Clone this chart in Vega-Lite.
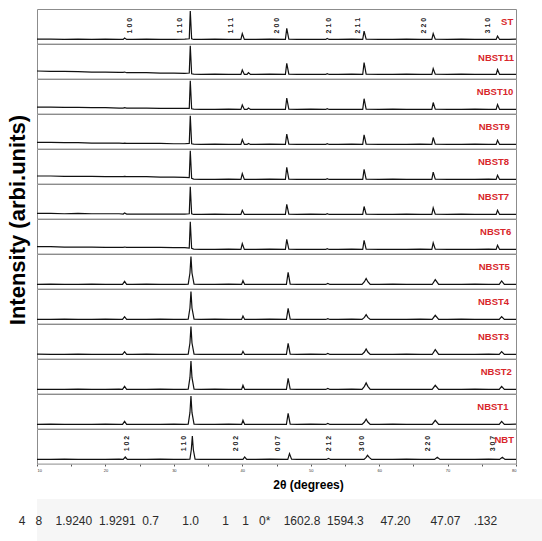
{
"$schema":"https://vega.github.io/schema/vega-lite/v6.json",
"padding":{"left":6,"top":8,"right":0,"bottom":0},
"title":{"text":"Intensity (arbi.units)","orient":"left","anchor":"middle","fontSize":22,"fontWeight":"bold","font":"Liberation Sans","color":"#000","offset":-11,"dx":55},
"config":{"view":{"stroke":"#8c8c8c"},"font":"Liberation Sans"},
"datasets":{"d":[
{"s":"ST","x":10,"y":13},{"s":"ST","x":12,"y":13},{"s":"ST","x":14,"y":12},{"s":"ST","x":16,"y":13},{"s":"ST","x":18,"y":12},{"s":"ST","x":20,"y":13},{"s":"ST","x":22,"y":12},{"s":"ST","x":22.6,"y":12},{"s":"ST","x":22.8,"y":16},{"s":"ST","x":23.1,"y":12},{"s":"ST","x":24,"y":12},{"s":"ST","x":26,"y":13},{"s":"ST","x":28,"y":12},{"s":"ST","x":30,"y":12},{"s":"ST","x":31.6,"y":13},{"s":"ST","x":32.25,"y":14},{"s":"ST","x":32.4,"y":94},{"s":"ST","x":32.6,"y":14},{"s":"ST","x":32.9,"y":12},{"s":"ST","x":34,"y":12},{"s":"ST","x":36,"y":13},{"s":"ST","x":38,"y":12},{"s":"ST","x":39.8,"y":12},{"s":"ST","x":40,"y":29},{"s":"ST","x":40.3,"y":12},{"s":"ST","x":42,"y":12},{"s":"ST","x":44,"y":13},{"s":"ST","x":46.3,"y":12},{"s":"ST","x":46.5,"y":44},{"s":"ST","x":46.8,"y":13},{"s":"ST","x":48,"y":12},{"s":"ST","x":50,"y":12},{"s":"ST","x":52.2,"y":12},{"s":"ST","x":52.4,"y":15},{"s":"ST","x":52.7,"y":12},{"s":"ST","x":54,"y":12},{"s":"ST","x":56,"y":13},{"s":"ST","x":57.6,"y":12},{"s":"ST","x":57.8,"y":36},{"s":"ST","x":58.1,"y":13},{"s":"ST","x":60,"y":12},{"s":"ST","x":62,"y":12},{"s":"ST","x":64,"y":13},{"s":"ST","x":66,"y":12},{"s":"ST","x":67.7,"y":12},{"s":"ST","x":67.9,"y":29},{"s":"ST","x":68.2,"y":13},{"s":"ST","x":70,"y":12},{"s":"ST","x":72,"y":13},{"s":"ST","x":74,"y":12},{"s":"ST","x":76,"y":12},{"s":"ST","x":77.1,"y":12},{"s":"ST","x":77.3,"y":22},{"s":"ST","x":77.6,"y":12},{"s":"ST","x":79,"y":12},{"s":"ST","x":80,"y":13},
{"s":"NBST11","x":10,"y":22},{"s":"NBST11","x":12,"y":21},{"s":"NBST11","x":14,"y":21},{"s":"NBST11","x":16,"y":20},{"s":"NBST11","x":18,"y":19},{"s":"NBST11","x":20,"y":19},{"s":"NBST11","x":22,"y":18},{"s":"NBST11","x":22.6,"y":18},{"s":"NBST11","x":22.8,"y":19},{"s":"NBST11","x":23.1,"y":17},{"s":"NBST11","x":24,"y":17},{"s":"NBST11","x":26,"y":17},{"s":"NBST11","x":28,"y":16},{"s":"NBST11","x":30,"y":16},{"s":"NBST11","x":31.6,"y":15},{"s":"NBST11","x":32.25,"y":16},{"s":"NBST11","x":32.4,"y":95},{"s":"NBST11","x":32.6,"y":14},{"s":"NBST11","x":32.9,"y":13},{"s":"NBST11","x":34,"y":12},{"s":"NBST11","x":36,"y":13},{"s":"NBST11","x":38,"y":12},{"s":"NBST11","x":39.8,"y":12},{"s":"NBST11","x":40,"y":25},{"s":"NBST11","x":40.3,"y":12},{"s":"NBST11","x":40.7,"y":12},{"s":"NBST11","x":40.9,"y":17},{"s":"NBST11","x":41.2,"y":12},{"s":"NBST11","x":42,"y":12},{"s":"NBST11","x":44,"y":13},{"s":"NBST11","x":46.3,"y":12},{"s":"NBST11","x":46.5,"y":44},{"s":"NBST11","x":46.8,"y":13},{"s":"NBST11","x":48,"y":12},{"s":"NBST11","x":50,"y":12},{"s":"NBST11","x":52.2,"y":12},{"s":"NBST11","x":52.4,"y":14},{"s":"NBST11","x":52.7,"y":12},{"s":"NBST11","x":54,"y":12},{"s":"NBST11","x":56,"y":13},{"s":"NBST11","x":57.6,"y":12},{"s":"NBST11","x":57.8,"y":46},{"s":"NBST11","x":58.1,"y":13},{"s":"NBST11","x":60,"y":12},{"s":"NBST11","x":62,"y":12},{"s":"NBST11","x":64,"y":13},{"s":"NBST11","x":66,"y":12},{"s":"NBST11","x":67.7,"y":12},{"s":"NBST11","x":67.9,"y":29},{"s":"NBST11","x":68.2,"y":13},{"s":"NBST11","x":70,"y":12},{"s":"NBST11","x":72,"y":13},{"s":"NBST11","x":74,"y":12},{"s":"NBST11","x":76,"y":12},{"s":"NBST11","x":77.1,"y":12},{"s":"NBST11","x":77.3,"y":26},{"s":"NBST11","x":77.6,"y":12},{"s":"NBST11","x":79,"y":12},{"s":"NBST11","x":80,"y":12},
{"s":"NBST10","x":10,"y":19},{"s":"NBST10","x":12,"y":19},{"s":"NBST10","x":14,"y":18},{"s":"NBST10","x":16,"y":18},{"s":"NBST10","x":18,"y":17},{"s":"NBST10","x":20,"y":17},{"s":"NBST10","x":22,"y":16},{"s":"NBST10","x":22.6,"y":16},{"s":"NBST10","x":22.8,"y":17},{"s":"NBST10","x":23.1,"y":16},{"s":"NBST10","x":24,"y":16},{"s":"NBST10","x":26,"y":16},{"s":"NBST10","x":28,"y":15},{"s":"NBST10","x":30,"y":15},{"s":"NBST10","x":31.6,"y":15},{"s":"NBST10","x":32.25,"y":15},{"s":"NBST10","x":32.4,"y":95},{"s":"NBST10","x":32.6,"y":14},{"s":"NBST10","x":32.9,"y":13},{"s":"NBST10","x":34,"y":12},{"s":"NBST10","x":36,"y":12},{"s":"NBST10","x":38,"y":13},{"s":"NBST10","x":39.8,"y":12},{"s":"NBST10","x":40,"y":25},{"s":"NBST10","x":40.3,"y":12},{"s":"NBST10","x":40.7,"y":12},{"s":"NBST10","x":40.9,"y":16},{"s":"NBST10","x":41.2,"y":12},{"s":"NBST10","x":42,"y":12},{"s":"NBST10","x":44,"y":12},{"s":"NBST10","x":46.3,"y":12},{"s":"NBST10","x":46.5,"y":45},{"s":"NBST10","x":46.8,"y":13},{"s":"NBST10","x":48,"y":12},{"s":"NBST10","x":50,"y":13},{"s":"NBST10","x":52.2,"y":12},{"s":"NBST10","x":52.4,"y":14},{"s":"NBST10","x":52.7,"y":12},{"s":"NBST10","x":54,"y":12},{"s":"NBST10","x":56,"y":12},{"s":"NBST10","x":57.6,"y":12},{"s":"NBST10","x":57.8,"y":43},{"s":"NBST10","x":58.1,"y":13},{"s":"NBST10","x":60,"y":12},{"s":"NBST10","x":62,"y":13},{"s":"NBST10","x":64,"y":12},{"s":"NBST10","x":66,"y":12},{"s":"NBST10","x":67.7,"y":12},{"s":"NBST10","x":67.9,"y":32},{"s":"NBST10","x":68.2,"y":13},{"s":"NBST10","x":70,"y":12},{"s":"NBST10","x":72,"y":12},{"s":"NBST10","x":74,"y":13},{"s":"NBST10","x":76,"y":12},{"s":"NBST10","x":77.1,"y":12},{"s":"NBST10","x":77.3,"y":26},{"s":"NBST10","x":77.6,"y":12},{"s":"NBST10","x":79,"y":12},{"s":"NBST10","x":80,"y":12},
{"s":"NBST9","x":10,"y":18},{"s":"NBST9","x":12,"y":18},{"s":"NBST9","x":14,"y":17},{"s":"NBST9","x":16,"y":17},{"s":"NBST9","x":18,"y":16},{"s":"NBST9","x":20,"y":16},{"s":"NBST9","x":22,"y":16},{"s":"NBST9","x":22.6,"y":15},{"s":"NBST9","x":22.8,"y":16},{"s":"NBST9","x":23.1,"y":15},{"s":"NBST9","x":24,"y":15},{"s":"NBST9","x":26,"y":15},{"s":"NBST9","x":28,"y":15},{"s":"NBST9","x":30,"y":14},{"s":"NBST9","x":31.6,"y":14},{"s":"NBST9","x":32.25,"y":15},{"s":"NBST9","x":32.4,"y":95},{"s":"NBST9","x":32.6,"y":14},{"s":"NBST9","x":32.9,"y":13},{"s":"NBST9","x":34,"y":12},{"s":"NBST9","x":36,"y":13},{"s":"NBST9","x":38,"y":12},{"s":"NBST9","x":39.8,"y":12},{"s":"NBST9","x":40,"y":26},{"s":"NBST9","x":40.3,"y":12},{"s":"NBST9","x":40.7,"y":12},{"s":"NBST9","x":40.9,"y":15},{"s":"NBST9","x":41.2,"y":12},{"s":"NBST9","x":42,"y":12},{"s":"NBST9","x":44,"y":13},{"s":"NBST9","x":46.3,"y":12},{"s":"NBST9","x":46.5,"y":42},{"s":"NBST9","x":46.8,"y":13},{"s":"NBST9","x":48,"y":12},{"s":"NBST9","x":50,"y":12},{"s":"NBST9","x":52.2,"y":12},{"s":"NBST9","x":52.4,"y":14},{"s":"NBST9","x":52.7,"y":12},{"s":"NBST9","x":54,"y":12},{"s":"NBST9","x":56,"y":13},{"s":"NBST9","x":57.6,"y":12},{"s":"NBST9","x":57.8,"y":40},{"s":"NBST9","x":58.1,"y":13},{"s":"NBST9","x":60,"y":12},{"s":"NBST9","x":62,"y":12},{"s":"NBST9","x":64,"y":12},{"s":"NBST9","x":66,"y":13},{"s":"NBST9","x":67.7,"y":12},{"s":"NBST9","x":67.9,"y":32},{"s":"NBST9","x":68.2,"y":13},{"s":"NBST9","x":70,"y":12},{"s":"NBST9","x":72,"y":12},{"s":"NBST9","x":74,"y":13},{"s":"NBST9","x":76,"y":12},{"s":"NBST9","x":77.1,"y":12},{"s":"NBST9","x":77.3,"y":24},{"s":"NBST9","x":77.6,"y":12},{"s":"NBST9","x":79,"y":12},{"s":"NBST9","x":80,"y":12},
{"s":"NBST8","x":10,"y":22},{"s":"NBST8","x":12,"y":22},{"s":"NBST8","x":14,"y":21},{"s":"NBST8","x":16,"y":21},{"s":"NBST8","x":18,"y":21},{"s":"NBST8","x":20,"y":20},{"s":"NBST8","x":22,"y":20},{"s":"NBST8","x":22.6,"y":20},{"s":"NBST8","x":22.8,"y":21},{"s":"NBST8","x":23.1,"y":20},{"s":"NBST8","x":24,"y":20},{"s":"NBST8","x":26,"y":20},{"s":"NBST8","x":28,"y":19},{"s":"NBST8","x":30,"y":19},{"s":"NBST8","x":31.6,"y":18},{"s":"NBST8","x":32.25,"y":17},{"s":"NBST8","x":32.4,"y":95},{"s":"NBST8","x":32.6,"y":15},{"s":"NBST8","x":32.9,"y":13},{"s":"NBST8","x":34,"y":12},{"s":"NBST8","x":36,"y":12},{"s":"NBST8","x":38,"y":13},{"s":"NBST8","x":39.8,"y":12},{"s":"NBST8","x":40,"y":29},{"s":"NBST8","x":40.3,"y":12},{"s":"NBST8","x":42,"y":12},{"s":"NBST8","x":44,"y":13},{"s":"NBST8","x":46.3,"y":12},{"s":"NBST8","x":46.5,"y":47},{"s":"NBST8","x":46.8,"y":13},{"s":"NBST8","x":48,"y":12},{"s":"NBST8","x":50,"y":12},{"s":"NBST8","x":52.2,"y":12},{"s":"NBST8","x":52.4,"y":14},{"s":"NBST8","x":52.7,"y":12},{"s":"NBST8","x":54,"y":12},{"s":"NBST8","x":56,"y":12},{"s":"NBST8","x":57.6,"y":12},{"s":"NBST8","x":57.8,"y":41},{"s":"NBST8","x":58.1,"y":13},{"s":"NBST8","x":60,"y":12},{"s":"NBST8","x":62,"y":13},{"s":"NBST8","x":64,"y":12},{"s":"NBST8","x":66,"y":12},{"s":"NBST8","x":67.7,"y":12},{"s":"NBST8","x":67.9,"y":33},{"s":"NBST8","x":68.2,"y":13},{"s":"NBST8","x":70,"y":12},{"s":"NBST8","x":72,"y":12},{"s":"NBST8","x":74,"y":12},{"s":"NBST8","x":76,"y":13},{"s":"NBST8","x":77.1,"y":12},{"s":"NBST8","x":77.3,"y":24},{"s":"NBST8","x":77.6,"y":12},{"s":"NBST8","x":79,"y":12},{"s":"NBST8","x":80,"y":12},
{"s":"NBST7","x":10,"y":15},{"s":"NBST7","x":12,"y":15},{"s":"NBST7","x":14,"y":14},{"s":"NBST7","x":16,"y":15},{"s":"NBST7","x":18,"y":14},{"s":"NBST7","x":20,"y":14},{"s":"NBST7","x":22,"y":14},{"s":"NBST7","x":22.6,"y":13},{"s":"NBST7","x":22.8,"y":16},{"s":"NBST7","x":23.1,"y":13},{"s":"NBST7","x":24,"y":13},{"s":"NBST7","x":26,"y":13},{"s":"NBST7","x":28,"y":13},{"s":"NBST7","x":30,"y":13},{"s":"NBST7","x":31.6,"y":13},{"s":"NBST7","x":32.25,"y":14},{"s":"NBST7","x":32.4,"y":92},{"s":"NBST7","x":32.6,"y":14},{"s":"NBST7","x":32.9,"y":12},{"s":"NBST7","x":34,"y":12},{"s":"NBST7","x":36,"y":13},{"s":"NBST7","x":38,"y":12},{"s":"NBST7","x":39.8,"y":12},{"s":"NBST7","x":40,"y":24},{"s":"NBST7","x":40.3,"y":12},{"s":"NBST7","x":42,"y":12},{"s":"NBST7","x":44,"y":12},{"s":"NBST7","x":46.3,"y":12},{"s":"NBST7","x":46.5,"y":41},{"s":"NBST7","x":46.8,"y":13},{"s":"NBST7","x":48,"y":12},{"s":"NBST7","x":50,"y":13},{"s":"NBST7","x":52.2,"y":12},{"s":"NBST7","x":52.4,"y":14},{"s":"NBST7","x":52.7,"y":12},{"s":"NBST7","x":54,"y":12},{"s":"NBST7","x":56,"y":12},{"s":"NBST7","x":57.6,"y":12},{"s":"NBST7","x":57.8,"y":35},{"s":"NBST7","x":58.1,"y":13},{"s":"NBST7","x":60,"y":12},{"s":"NBST7","x":62,"y":12},{"s":"NBST7","x":64,"y":13},{"s":"NBST7","x":66,"y":12},{"s":"NBST7","x":67.7,"y":12},{"s":"NBST7","x":67.9,"y":31},{"s":"NBST7","x":68.2,"y":13},{"s":"NBST7","x":70,"y":12},{"s":"NBST7","x":72,"y":13},{"s":"NBST7","x":74,"y":12},{"s":"NBST7","x":76,"y":12},{"s":"NBST7","x":77.1,"y":12},{"s":"NBST7","x":77.3,"y":24},{"s":"NBST7","x":77.6,"y":12},{"s":"NBST7","x":79,"y":12},{"s":"NBST7","x":80,"y":12},
{"s":"NBST6","x":10,"y":20},{"s":"NBST6","x":12,"y":20},{"s":"NBST6","x":14,"y":19},{"s":"NBST6","x":16,"y":19},{"s":"NBST6","x":18,"y":19},{"s":"NBST6","x":20,"y":18},{"s":"NBST6","x":22,"y":18},{"s":"NBST6","x":22.6,"y":18},{"s":"NBST6","x":22.8,"y":19},{"s":"NBST6","x":23.1,"y":18},{"s":"NBST6","x":24,"y":18},{"s":"NBST6","x":26,"y":18},{"s":"NBST6","x":28,"y":18},{"s":"NBST6","x":30,"y":17},{"s":"NBST6","x":31.6,"y":17},{"s":"NBST6","x":32.25,"y":16},{"s":"NBST6","x":32.4,"y":92},{"s":"NBST6","x":32.6,"y":15},{"s":"NBST6","x":32.9,"y":13},{"s":"NBST6","x":34,"y":12},{"s":"NBST6","x":36,"y":12},{"s":"NBST6","x":38,"y":13},{"s":"NBST6","x":39.8,"y":12},{"s":"NBST6","x":40,"y":29},{"s":"NBST6","x":40.3,"y":12},{"s":"NBST6","x":42,"y":12},{"s":"NBST6","x":44,"y":13},{"s":"NBST6","x":46.3,"y":12},{"s":"NBST6","x":46.5,"y":41},{"s":"NBST6","x":46.8,"y":13},{"s":"NBST6","x":48,"y":12},{"s":"NBST6","x":50,"y":12},{"s":"NBST6","x":52.2,"y":12},{"s":"NBST6","x":52.4,"y":14},{"s":"NBST6","x":52.7,"y":12},{"s":"NBST6","x":54,"y":12},{"s":"NBST6","x":56,"y":13},{"s":"NBST6","x":57.6,"y":12},{"s":"NBST6","x":57.8,"y":38},{"s":"NBST6","x":58.1,"y":13},{"s":"NBST6","x":60,"y":12},{"s":"NBST6","x":62,"y":12},{"s":"NBST6","x":64,"y":12},{"s":"NBST6","x":66,"y":13},{"s":"NBST6","x":67.7,"y":12},{"s":"NBST6","x":67.9,"y":31},{"s":"NBST6","x":68.2,"y":13},{"s":"NBST6","x":70,"y":12},{"s":"NBST6","x":72,"y":12},{"s":"NBST6","x":74,"y":12},{"s":"NBST6","x":76,"y":13},{"s":"NBST6","x":77.1,"y":12},{"s":"NBST6","x":77.3,"y":24},{"s":"NBST6","x":77.6,"y":12},{"s":"NBST6","x":79,"y":12},{"s":"NBST6","x":80,"y":12},
{"s":"NBST5","x":10,"y":12},{"s":"NBST5","x":12,"y":13},{"s":"NBST5","x":14,"y":12},{"s":"NBST5","x":16,"y":12},{"s":"NBST5","x":18,"y":13},{"s":"NBST5","x":20,"y":12},{"s":"NBST5","x":22,"y":12},{"s":"NBST5","x":22.5,"y":12},{"s":"NBST5","x":22.8,"y":21},{"s":"NBST5","x":23.1,"y":12},{"s":"NBST5","x":24,"y":12},{"s":"NBST5","x":26,"y":13},{"s":"NBST5","x":28,"y":12},{"s":"NBST5","x":30,"y":12},{"s":"NBST5","x":31.6,"y":12},{"s":"NBST5","x":32.1,"y":13},{"s":"NBST5","x":32.35,"y":45},{"s":"NBST5","x":32.5,"y":93},{"s":"NBST5","x":32.65,"y":45},{"s":"NBST5","x":32.95,"y":13},{"s":"NBST5","x":34,"y":12},{"s":"NBST5","x":36,"y":12},{"s":"NBST5","x":38,"y":13},{"s":"NBST5","x":39.9,"y":12},{"s":"NBST5","x":40.1,"y":23},{"s":"NBST5","x":40.35,"y":12},{"s":"NBST5","x":42,"y":12},{"s":"NBST5","x":44,"y":12},{"s":"NBST5","x":46.45,"y":12},{"s":"NBST5","x":46.7,"y":47},{"s":"NBST5","x":47,"y":13},{"s":"NBST5","x":48,"y":12},{"s":"NBST5","x":50,"y":12},{"s":"NBST5","x":52.2,"y":12},{"s":"NBST5","x":52.5,"y":15},{"s":"NBST5","x":52.8,"y":12},{"s":"NBST5","x":54,"y":12},{"s":"NBST5","x":56,"y":12},{"s":"NBST5","x":57.5,"y":12},{"s":"NBST5","x":57.85,"y":20},{"s":"NBST5","x":58.1,"y":29},{"s":"NBST5","x":58.35,"y":20},{"s":"NBST5","x":58.7,"y":12},{"s":"NBST5","x":60,"y":12},{"s":"NBST5","x":62,"y":13},{"s":"NBST5","x":64,"y":12},{"s":"NBST5","x":66,"y":12},{"s":"NBST5","x":67.75,"y":12},{"s":"NBST5","x":68.2,"y":26},{"s":"NBST5","x":68.7,"y":12},{"s":"NBST5","x":70,"y":12},{"s":"NBST5","x":72,"y":12},{"s":"NBST5","x":74,"y":13},{"s":"NBST5","x":76,"y":12},{"s":"NBST5","x":77.55,"y":12},{"s":"NBST5","x":77.9,"y":22},{"s":"NBST5","x":78.3,"y":12},{"s":"NBST5","x":79,"y":12},{"s":"NBST5","x":80,"y":12},
{"s":"NBST4","x":10,"y":12},{"s":"NBST4","x":12,"y":12},{"s":"NBST4","x":14,"y":13},{"s":"NBST4","x":16,"y":12},{"s":"NBST4","x":18,"y":12},{"s":"NBST4","x":20,"y":13},{"s":"NBST4","x":22,"y":12},{"s":"NBST4","x":22.5,"y":12},{"s":"NBST4","x":22.8,"y":20},{"s":"NBST4","x":23.1,"y":12},{"s":"NBST4","x":24,"y":12},{"s":"NBST4","x":26,"y":12},{"s":"NBST4","x":28,"y":13},{"s":"NBST4","x":30,"y":12},{"s":"NBST4","x":31.6,"y":12},{"s":"NBST4","x":32.1,"y":13},{"s":"NBST4","x":32.35,"y":45},{"s":"NBST4","x":32.5,"y":93},{"s":"NBST4","x":32.65,"y":45},{"s":"NBST4","x":32.95,"y":13},{"s":"NBST4","x":34,"y":12},{"s":"NBST4","x":36,"y":13},{"s":"NBST4","x":38,"y":12},{"s":"NBST4","x":39.9,"y":12},{"s":"NBST4","x":40.1,"y":22},{"s":"NBST4","x":40.35,"y":12},{"s":"NBST4","x":42,"y":12},{"s":"NBST4","x":44,"y":13},{"s":"NBST4","x":46.45,"y":12},{"s":"NBST4","x":46.7,"y":44},{"s":"NBST4","x":47,"y":13},{"s":"NBST4","x":48,"y":12},{"s":"NBST4","x":50,"y":12},{"s":"NBST4","x":52.2,"y":12},{"s":"NBST4","x":52.5,"y":14},{"s":"NBST4","x":52.8,"y":12},{"s":"NBST4","x":54,"y":12},{"s":"NBST4","x":56,"y":13},{"s":"NBST4","x":57.5,"y":12},{"s":"NBST4","x":57.85,"y":18},{"s":"NBST4","x":58.1,"y":26},{"s":"NBST4","x":58.35,"y":18},{"s":"NBST4","x":58.7,"y":12},{"s":"NBST4","x":60,"y":12},{"s":"NBST4","x":62,"y":12},{"s":"NBST4","x":64,"y":12},{"s":"NBST4","x":66,"y":13},{"s":"NBST4","x":67.75,"y":12},{"s":"NBST4","x":68.2,"y":24},{"s":"NBST4","x":68.7,"y":12},{"s":"NBST4","x":70,"y":12},{"s":"NBST4","x":72,"y":13},{"s":"NBST4","x":74,"y":12},{"s":"NBST4","x":76,"y":12},{"s":"NBST4","x":77.55,"y":12},{"s":"NBST4","x":77.9,"y":20},{"s":"NBST4","x":78.3,"y":12},{"s":"NBST4","x":79,"y":12},{"s":"NBST4","x":80,"y":12},
{"s":"NBST3","x":10,"y":13},{"s":"NBST3","x":12,"y":12},{"s":"NBST3","x":14,"y":12},{"s":"NBST3","x":16,"y":13},{"s":"NBST3","x":18,"y":12},{"s":"NBST3","x":20,"y":12},{"s":"NBST3","x":22,"y":12},{"s":"NBST3","x":22.5,"y":12},{"s":"NBST3","x":22.8,"y":20},{"s":"NBST3","x":23.1,"y":12},{"s":"NBST3","x":24,"y":12},{"s":"NBST3","x":26,"y":13},{"s":"NBST3","x":28,"y":12},{"s":"NBST3","x":30,"y":12},{"s":"NBST3","x":31.6,"y":12},{"s":"NBST3","x":32.1,"y":13},{"s":"NBST3","x":32.35,"y":45},{"s":"NBST3","x":32.5,"y":93},{"s":"NBST3","x":32.65,"y":45},{"s":"NBST3","x":32.95,"y":13},{"s":"NBST3","x":34,"y":12},{"s":"NBST3","x":36,"y":12},{"s":"NBST3","x":38,"y":12},{"s":"NBST3","x":39.9,"y":12},{"s":"NBST3","x":40.1,"y":21},{"s":"NBST3","x":40.35,"y":12},{"s":"NBST3","x":42,"y":12},{"s":"NBST3","x":44,"y":12},{"s":"NBST3","x":46.45,"y":12},{"s":"NBST3","x":46.7,"y":44},{"s":"NBST3","x":47,"y":13},{"s":"NBST3","x":48,"y":12},{"s":"NBST3","x":50,"y":13},{"s":"NBST3","x":52.2,"y":12},{"s":"NBST3","x":52.5,"y":15},{"s":"NBST3","x":52.8,"y":12},{"s":"NBST3","x":54,"y":12},{"s":"NBST3","x":56,"y":12},{"s":"NBST3","x":57.5,"y":12},{"s":"NBST3","x":57.85,"y":19},{"s":"NBST3","x":58.1,"y":28},{"s":"NBST3","x":58.35,"y":19},{"s":"NBST3","x":58.7,"y":12},{"s":"NBST3","x":60,"y":12},{"s":"NBST3","x":62,"y":12},{"s":"NBST3","x":64,"y":13},{"s":"NBST3","x":66,"y":12},{"s":"NBST3","x":67.75,"y":12},{"s":"NBST3","x":68.2,"y":26},{"s":"NBST3","x":68.7,"y":12},{"s":"NBST3","x":70,"y":12},{"s":"NBST3","x":72,"y":12},{"s":"NBST3","x":74,"y":12},{"s":"NBST3","x":76,"y":13},{"s":"NBST3","x":77.55,"y":12},{"s":"NBST3","x":77.9,"y":20},{"s":"NBST3","x":78.3,"y":12},{"s":"NBST3","x":79,"y":12},{"s":"NBST3","x":80,"y":12},
{"s":"NBST2","x":10,"y":12},{"s":"NBST2","x":12,"y":12},{"s":"NBST2","x":14,"y":12},{"s":"NBST2","x":16,"y":13},{"s":"NBST2","x":18,"y":12},{"s":"NBST2","x":20,"y":12},{"s":"NBST2","x":22,"y":13},{"s":"NBST2","x":22.5,"y":12},{"s":"NBST2","x":22.8,"y":21},{"s":"NBST2","x":23.1,"y":12},{"s":"NBST2","x":24,"y":12},{"s":"NBST2","x":26,"y":12},{"s":"NBST2","x":28,"y":13},{"s":"NBST2","x":30,"y":12},{"s":"NBST2","x":31.6,"y":12},{"s":"NBST2","x":32.1,"y":13},{"s":"NBST2","x":32.35,"y":46},{"s":"NBST2","x":32.5,"y":94},{"s":"NBST2","x":32.65,"y":46},{"s":"NBST2","x":32.95,"y":13},{"s":"NBST2","x":34,"y":12},{"s":"NBST2","x":36,"y":13},{"s":"NBST2","x":38,"y":12},{"s":"NBST2","x":39.9,"y":12},{"s":"NBST2","x":40.1,"y":24},{"s":"NBST2","x":40.35,"y":12},{"s":"NBST2","x":42,"y":12},{"s":"NBST2","x":44,"y":12},{"s":"NBST2","x":46.45,"y":12},{"s":"NBST2","x":46.7,"y":44},{"s":"NBST2","x":47,"y":13},{"s":"NBST2","x":48,"y":12},{"s":"NBST2","x":50,"y":12},{"s":"NBST2","x":52.2,"y":12},{"s":"NBST2","x":52.5,"y":15},{"s":"NBST2","x":52.8,"y":12},{"s":"NBST2","x":54,"y":12},{"s":"NBST2","x":56,"y":13},{"s":"NBST2","x":57.5,"y":12},{"s":"NBST2","x":57.85,"y":21},{"s":"NBST2","x":58.1,"y":31},{"s":"NBST2","x":58.35,"y":21},{"s":"NBST2","x":58.7,"y":12},{"s":"NBST2","x":60,"y":12},{"s":"NBST2","x":62,"y":12},{"s":"NBST2","x":64,"y":12},{"s":"NBST2","x":66,"y":12},{"s":"NBST2","x":67.75,"y":12},{"s":"NBST2","x":68.2,"y":24},{"s":"NBST2","x":68.7,"y":12},{"s":"NBST2","x":70,"y":12},{"s":"NBST2","x":72,"y":12},{"s":"NBST2","x":74,"y":13},{"s":"NBST2","x":76,"y":12},{"s":"NBST2","x":77.55,"y":12},{"s":"NBST2","x":77.9,"y":21},{"s":"NBST2","x":78.3,"y":12},{"s":"NBST2","x":79,"y":12},{"s":"NBST2","x":80,"y":12},
{"s":"NBST1","x":10,"y":12},{"s":"NBST1","x":12,"y":13},{"s":"NBST1","x":14,"y":12},{"s":"NBST1","x":16,"y":12},{"s":"NBST1","x":18,"y":12},{"s":"NBST1","x":20,"y":13},{"s":"NBST1","x":22,"y":12},{"s":"NBST1","x":22.5,"y":12},{"s":"NBST1","x":22.8,"y":21},{"s":"NBST1","x":23.1,"y":12},{"s":"NBST1","x":24,"y":12},{"s":"NBST1","x":26,"y":12},{"s":"NBST1","x":28,"y":12},{"s":"NBST1","x":30,"y":13},{"s":"NBST1","x":31.6,"y":12},{"s":"NBST1","x":32.1,"y":13},{"s":"NBST1","x":32.35,"y":46},{"s":"NBST1","x":32.5,"y":94},{"s":"NBST1","x":32.65,"y":46},{"s":"NBST1","x":32.95,"y":13},{"s":"NBST1","x":34,"y":12},{"s":"NBST1","x":36,"y":12},{"s":"NBST1","x":38,"y":13},{"s":"NBST1","x":39.9,"y":12},{"s":"NBST1","x":40.1,"y":24},{"s":"NBST1","x":40.35,"y":12},{"s":"NBST1","x":42,"y":12},{"s":"NBST1","x":44,"y":12},{"s":"NBST1","x":46.45,"y":12},{"s":"NBST1","x":46.7,"y":44},{"s":"NBST1","x":47,"y":13},{"s":"NBST1","x":48,"y":12},{"s":"NBST1","x":50,"y":13},{"s":"NBST1","x":52.2,"y":12},{"s":"NBST1","x":52.5,"y":15},{"s":"NBST1","x":52.8,"y":12},{"s":"NBST1","x":54,"y":12},{"s":"NBST1","x":56,"y":12},{"s":"NBST1","x":57.5,"y":12},{"s":"NBST1","x":57.85,"y":19},{"s":"NBST1","x":58.1,"y":27},{"s":"NBST1","x":58.35,"y":19},{"s":"NBST1","x":58.7,"y":12},{"s":"NBST1","x":60,"y":12},{"s":"NBST1","x":62,"y":13},{"s":"NBST1","x":64,"y":12},{"s":"NBST1","x":66,"y":12},{"s":"NBST1","x":67.75,"y":12},{"s":"NBST1","x":68.2,"y":24},{"s":"NBST1","x":68.7,"y":12},{"s":"NBST1","x":70,"y":12},{"s":"NBST1","x":72,"y":12},{"s":"NBST1","x":74,"y":12},{"s":"NBST1","x":76,"y":12},{"s":"NBST1","x":77.55,"y":12},{"s":"NBST1","x":77.9,"y":21},{"s":"NBST1","x":78.3,"y":12},{"s":"NBST1","x":79,"y":12},{"s":"NBST1","x":80,"y":13},
{"s":"NBT","x":10,"y":12},{"s":"NBT","x":12,"y":12},{"s":"NBT","x":14,"y":13},{"s":"NBT","x":16,"y":12},{"s":"NBT","x":18,"y":12},{"s":"NBT","x":20,"y":12},{"s":"NBT","x":22,"y":13},{"s":"NBT","x":22.6,"y":12},{"s":"NBT","x":22.9,"y":19},{"s":"NBT","x":23.2,"y":12},{"s":"NBT","x":24,"y":12},{"s":"NBT","x":26,"y":12},{"s":"NBT","x":28,"y":13},{"s":"NBT","x":30,"y":12},{"s":"NBT","x":31.6,"y":12},{"s":"NBT","x":32.35,"y":13},{"s":"NBT","x":32.55,"y":40},{"s":"NBT","x":32.7,"y":80},{"s":"NBT","x":32.85,"y":40},{"s":"NBT","x":33.1,"y":13},{"s":"NBT","x":34,"y":12},{"s":"NBT","x":36,"y":12},{"s":"NBT","x":38,"y":12},{"s":"NBT","x":40.1,"y":12},{"s":"NBT","x":40.35,"y":19},{"s":"NBT","x":40.65,"y":12},{"s":"NBT","x":42,"y":12},{"s":"NBT","x":44,"y":13},{"s":"NBT","x":46.65,"y":12},{"s":"NBT","x":46.9,"y":29},{"s":"NBT","x":47.2,"y":13},{"s":"NBT","x":48,"y":12},{"s":"NBT","x":50,"y":12},{"s":"NBT","x":52.3,"y":12},{"s":"NBT","x":52.6,"y":15},{"s":"NBT","x":52.9,"y":12},{"s":"NBT","x":54,"y":12},{"s":"NBT","x":56,"y":12},{"s":"NBT","x":57.8,"y":12},{"s":"NBT","x":58.1,"y":18},{"s":"NBT","x":58.3,"y":24},{"s":"NBT","x":58.55,"y":18},{"s":"NBT","x":58.9,"y":12},{"s":"NBT","x":60,"y":12},{"s":"NBT","x":62,"y":12},{"s":"NBT","x":64,"y":13},{"s":"NBT","x":66,"y":12},{"s":"NBT","x":68.1,"y":12},{"s":"NBT","x":68.5,"y":18},{"s":"NBT","x":68.9,"y":12},{"s":"NBT","x":70,"y":12},{"s":"NBT","x":72,"y":12},{"s":"NBT","x":74,"y":12},{"s":"NBT","x":76,"y":13},{"s":"NBT","x":77.6,"y":12},{"s":"NBT","x":78,"y":18},{"s":"NBT","x":78.4,"y":12},{"s":"NBT","x":79,"y":12},{"s":"NBT","x":80,"y":12},
{"s":"ST","x":79.6,"y":62,"n":"ST"},{"s":"NBST11","x":79.7,"y":60,"n":"NBST11"},{"s":"NBST10","x":79.6,"y":62,"n":"NBST10"},{"s":"NBST9","x":79.1,"y":62,"n":"NBST9"},{"s":"NBST8","x":79.0,"y":62,"n":"NBST8"},{"s":"NBST7","x":79.0,"y":62,"n":"NBST7"},{"s":"NBST6","x":79.3,"y":62,"n":"NBST6"},{"s":"NBST5","x":79.1,"y":62,"n":"NBST5"},{"s":"NBST4","x":79.0,"y":62,"n":"NBST4"},{"s":"NBST3","x":79.0,"y":62,"n":"NBST3"},{"s":"NBST2","x":79.4,"y":62,"n":"NBST2"},{"s":"NBST1","x":78.9,"y":62,"n":"NBST1"},{"s":"NBT","x":79.7,"y":68,"n":"NBT"},
{"s":"ST","x":23.6,"y":52,"h":"1 0 0"},{"s":"ST","x":30.9,"y":52,"h":"1 1 0"},{"s":"ST","x":38.35,"y":52,"h":"1 1 1"},{"s":"ST","x":45.0,"y":52,"h":"2 0 0"},{"s":"ST","x":52.6,"y":52,"h":"2 1 0"},{"s":"ST","x":56.9,"y":52,"h":"2 1 1"},{"s":"ST","x":66.5,"y":52,"h":"2 2 0"},{"s":"ST","x":75.9,"y":52,"h":"3 1 0"},
{"s":"NBT","x":23.1,"y":58,"h":"1 0 2"},{"s":"NBT","x":31.5,"y":58,"h":"1 1 0"},{"s":"NBT","x":39.1,"y":58,"h":"2 0 2"},{"s":"NBT","x":45.2,"y":58,"h":"0 0 7"},{"s":"NBT","x":52.6,"y":58,"h":"2 1 2"},{"s":"NBT","x":57.45,"y":58,"h":"3 0 0"},{"s":"NBT","x":67.2,"y":58,"h":"2 2 0"},{"s":"NBT","x":76.6,"y":58,"h":"3 0 7"}
]},
"spacing":9,
"vconcat":[
{
"data":{"name":"d"},
"facet":{"row":{"field":"s","type":"nominal","title":null,"sort":["ST","NBST11","NBST10","NBST9","NBST8","NBST7","NBST6","NBST5","NBST4","NBST3","NBST2","NBST1","NBT"],"header":{"labels":false,"title":null}}},
"spacing":{"row":0},
"bounds":"flush",
"spec":{
"width":479,"height":34.6,
"encoding":{
"x":{"field":"x","type":"quantitative","scale":{"domain":[10,80],"nice":false,"zero":false},"axis":{"title":"2θ (degrees)","titleX":271,"titleAlign":"center","titleFontSize":12,"titleFontWeight":"bold","titleFont":"Liberation Sans","titleColor":"#000","values":[10,15,20,25,30,35,40,45,50,55,60,65,70,75,80],"labelExpr":"datum.value % 10 == 0 ? datum.label : ''","labelFontSize":4,"labelColor":"#333","tickSize":2,"tickColor":"#555","domain":false,"grid":false,"titlePadding":7}},
"y":{"field":"y","type":"quantitative","scale":{"domain":[0,100],"nice":false,"zero":false},"axis":null}
},
"layer":[
{"transform":[{"filter":"!datum.n && !datum.h"}],"mark":{"type":"line","color":"#111","strokeWidth":1.2}},
{"transform":[{"filter":"datum.n"}],"mark":{"type":"text","align":"right","baseline":"middle","color":"#d8262a","fontWeight":"bold","fontSize":9.5,"font":"Liberation Sans"},"encoding":{"text":{"field":"n"}}},
{"transform":[{"filter":"datum.h"}],"mark":{"type":"text","angle":270,"align":"center","baseline":"middle","color":"#222","fontWeight":"bold","fontSize":7,"font":"Liberation Sans"},"encoding":{"text":{"field":"h"}}}
]
}
},
{
"width":506,"height":43,
"view":{"fill":"#f6f6f6","stroke":null},
"data":{"values":[{"t":"4\u00a0\u00a0\u00a08\u00a0\u00a0\u00a0\u00a01.9240\u00a0\u00a01.9291\u00a0\u00a00.7\u00a0\u00a0\u00a0\u00a0\u00a0\u00a0\u00a01.0\u00a0\u00a0\u00a0\u00a0\u00a0\u00a0\u00a01\u00a0\u00a0\u00a0\u00a01\u00a0\u00a0\u00a00*\u00a0\u00a0\u00a0\u00a01602.8\u00a0\u00a01594.3\u00a0\u00a0\u00a0\u00a0\u00a047.20\u00a0\u00a0\u00a0\u00a0\u00a0\u00a047.07\u00a0\u00a0\u00a0\u00a0.132"}]},
"mark":{"type":"text","font":"Liberation Sans","fontSize":12,"color":"#2a2a2a","align":"center","baseline":"middle","dx":-32},
"encoding":{"text":{"field":"t"}}
}
]
}
